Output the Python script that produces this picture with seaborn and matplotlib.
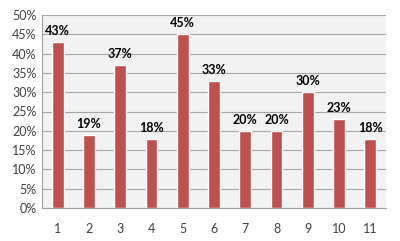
import matplotlib
matplotlib.use("Agg")
import matplotlib.pyplot as plt
import seaborn as sns
import pandas as pd
from matplotlib.ticker import FixedLocator

categories = ["1", "2", "3", "4", "5", "6", "7", "8", "9", "10", "11"]
values = [43, 19, 37, 18, 45, 33, 20, 20, 30, 23, 18]
y_ticks = [0, 5, 10, 15, 20, 25, 30, 35, 40, 45, 50]

sns.set_style("white")
plt.rcParams['font.family'] = ['Lato', 'DejaVu Sans']

df = pd.DataFrame({"cat": categories, "val": values})

fig = plt.figure(figsize=(4.0, 2.41), dpi=100)
ax = fig.add_axes([42/400, 1 - 208/241, (386-42)/400, (208-15)/241])
ax.set_facecolor("#F2F2F2")
sns.barplot(data=df, x="cat", y="val", color="#C0504D", saturation=1, width=0.38, ax=ax, zorder=3)

ax.set_ylim(0, 50)
ax.set_xlim(-0.5, len(categories) - 0.5)
ax.set_yticks(y_ticks)
ax.set_yticklabels([f"{t}%" for t in y_ticks], fontsize=9, color="#404040")
ax.tick_params(axis="y", length=0, pad=4)
ax.tick_params(axis="x", which="major", length=0, pad=11, labelsize=9, labelcolor="#404040")
ax.xaxis.set_minor_locator(FixedLocator([i - 0.5 for i in range(len(categories) + 1)]))
ax.tick_params(axis="x", which="minor", length=4, color="#A0A0A0", direction="out")
ax.grid(axis="y", color="#A6A6A6", linewidth=0.8, zorder=0)
ax.set_axisbelow(True)
ax.set_xlabel("")
ax.set_ylabel("")
for s in ["top", "right"]:
    ax.spines[s].set_visible(False)
ax.spines["left"].set_color("#A0A0A0")
ax.spines["bottom"].set_color("#A0A0A0")
ax.spines["left"].set_linewidth(0.8)
ax.spines["bottom"].set_linewidth(0.8)

for i, v in enumerate(values):
    ax.text(i, v + 1.3, f"{v}%", ha="center", va="bottom", fontsize=9, fontweight="bold", color="black")

fig.savefig("out.png", dpi=100)
